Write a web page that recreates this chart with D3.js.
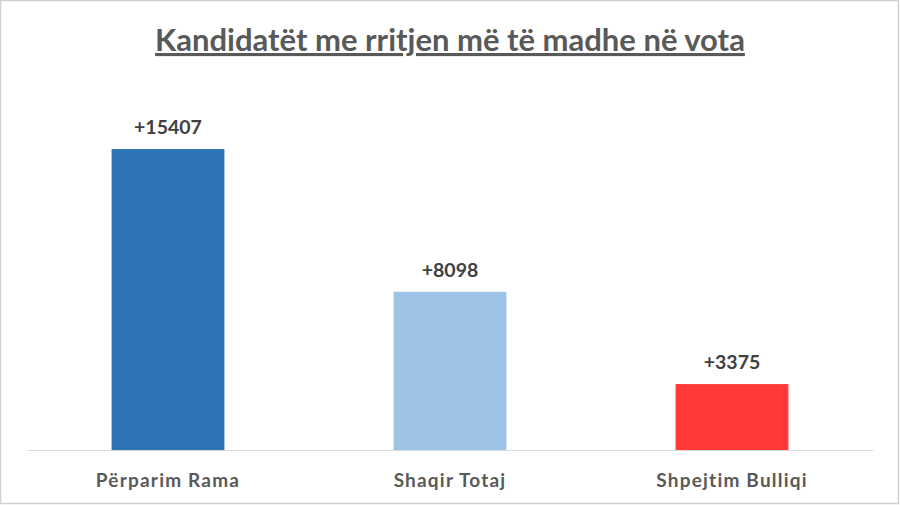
<!DOCTYPE html>
<html>
<head>
<meta charset="utf-8">
<script src="https://cdn.jsdelivr.net/npm/d3@7"></script>
<style>
  html, body { margin: 0; padding: 0; background: #fff; }
  svg { display: block; }
</style>
</head>
<body>
<svg id="chart" width="900" height="505"></svg>
<script>
const categories = ["Përparim Rama", "Shaqir Totaj", "Shpejtim Bulliqi"];
const values = [15407, 8098, 3375];
const valueLabels = ["+15407", "+8098", "+3375"];
const colors = ["#2E75B6", "#9DC3E6", "#FF3838"];
const title = "Kandidatët me rritjen më të madhe në vota";

const svg = d3.select("#chart");
const W = 900, H = 505;
const font = "Lato, 'Open Sans', sans-serif";

svg.append("rect")
  .attr("x", 0.5).attr("y", 0.5)
  .attr("width", W - 2).attr("height", H - 2)
  .attr("fill", "#fff").attr("stroke", "#d0d0d0").attr("stroke-width", 1.5);

const x = d3.scaleBand().domain(categories).range([27, 873])
  .paddingInner(0.6).paddingOuter(0.3);
const y = d3.scaleLinear().domain([0, 18000]).range([450, 98.4]);

// title
svg.append("text")
  .attr("x", 450).attr("y", 51)
  .attr("text-anchor", "middle")
  .attr("font-family", font).attr("font-weight", "bold")
  .attr("font-size", 31).attr("fill", "#595959")
  .attr("text-decoration", "underline")
  .text(title);

// bars
svg.selectAll("rect.bar").data(values).join("rect")
  .attr("class", "bar")
  .attr("x", (d, i) => x(categories[i]))
  .attr("width", x.bandwidth())
  .attr("y", d => y(d))
  .attr("height", d => y(0) - y(d))
  .attr("fill", (d, i) => colors[i]);

// axis
const axis = d3.axisBottom(x).tickSize(0).tickPadding(24);
const ag = svg.append("g").attr("transform", `translate(0,${y(0)})`).call(axis);
ag.select(".domain").attr("stroke", "#d9d9d9").attr("stroke-width", 1);
ag.selectAll("text")
  .attr("font-family", font).attr("font-weight", "bold")
  .attr("font-size", 19).attr("fill", "#595959")
  .attr("letter-spacing", "1.2px");

// value labels
svg.selectAll("text.val").data(values).join("text")
  .attr("class", "val")
  .attr("x", (d, i) => x(categories[i]) + x.bandwidth() / 2)
  .attr("y", d => y(d) - 15)
  .attr("text-anchor", "middle")
  .attr("font-family", font).attr("font-weight", "bold")
  .attr("font-size", 19.5).attr("fill", "#404040")
  .text((d, i) => valueLabels[i]);
</script>
</body>
</html>
